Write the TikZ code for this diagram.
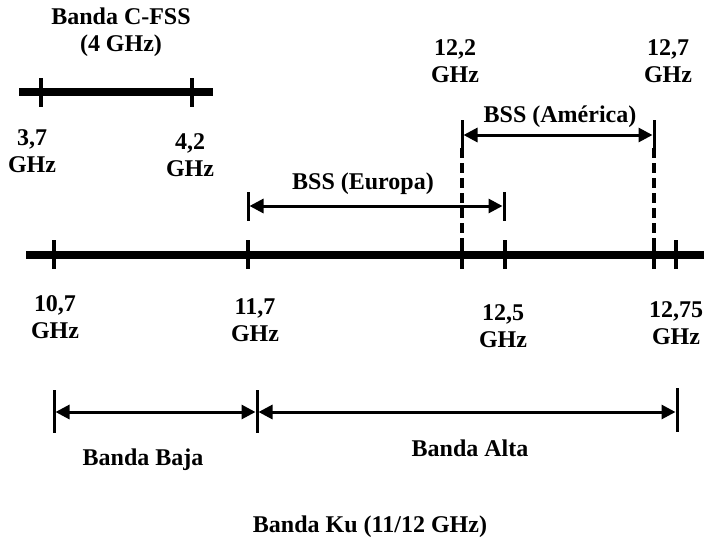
\documentclass[tikz,border=0pt]{standalone}
\usepackage{fontspec}
\setmainfont{Liberation Serif}
\usetikzlibrary{arrows.meta}
\begin{document}
\begin{tikzpicture}[x=1pt,y=-1pt,
  lbl/.style={font=\fontsize{24}{27}\selectfont\bfseries, inner sep=0pt, align=center},
  axisline/.style={line width=8pt},
  tickmark/.style={line width=3.5pt},
  barmark/.style={line width=3pt},
  dim/.style={line width=3pt, {Triangle[length=14pt,width=14pt]}-{Triangle[length=14pt,width=14pt]}, shorten <=1.5pt, shorten >=1.5pt},
  dashln/.style={line width=3.5pt, dash pattern=on 10pt off 5pt}]
\useasboundingbox (0,0) rectangle (704,541);

% C band
\coordinate (cL) at (19,92);
\coordinate (cR) at (213,92);
\draw[axisline] (cL) -- (cR);
\coordinate (c1t) at (41,78); \coordinate (c1b) at (41,107);
\coordinate (c2t) at (192,78); \coordinate (c2b) at (192,107);
\draw[tickmark] (c1t) -- (c1b);
\draw[tickmark] (c2t) -- (c2b);
\node[lbl] (ctitle) at (121,32) {Banda C-FSS\\(4 GHz)};
\node[lbl] (l37) at (32,151) {3,7\\GHz};
\node[lbl] (l42) at (190,155) {4,2\\GHz};

% main axis
\coordinate (aL) at (26,255);
\coordinate (aR) at (704,255);
\draw[axisline] (aL) -- (aR);
\foreach \n/\x in {t107/54, t117/248, t122/462, t125/505, t127/654, t1275/676}{
  \coordinate (\n t) at (\x,240);
  \coordinate (\n b) at (\x,269);
}
\draw[tickmark] (t107t) -- (t107b);
\draw[tickmark] (t117t) -- (t117b);
\draw[tickmark] (t122t) -- (t122b);
\draw[tickmark] (t125t) -- (t125b);
\draw[tickmark] (t127t) -- (t127b);
\draw[line width=4.5pt] (t1275t) -- (t1275b);

% BSS America
\coordinate (amLt) at (462,120); \coordinate (amLb) at (462,148);
\coordinate (amRt) at (654,120); \coordinate (amRb) at (654,148);
\coordinate (amL) at (462,135); \coordinate (amR) at (654,135);
\draw[barmark] (amLt) -- (amLb);
\draw[barmark] (amRt) -- (amRb);
\draw[dim] (amL) -- (amR);
\draw[dashln] (amLb) -- (t122t);
\draw[dashln] (amRb) -- (t127t);
\node[lbl] (bssam) at (560,117) {BSS (América)};
\node[lbl] (l122) at (455,61) {12,2\\GHz};
\node[lbl] (l127) at (668,61) {12,7\\GHz};

% BSS Europa
\coordinate (euLt) at (248,192); \coordinate (euLb) at (248,221);
\coordinate (euRt) at (504,192); \coordinate (euRb) at (504,221);
\coordinate (euL) at (248,206); \coordinate (euR) at (504,206);
\draw[barmark] (euLt) -- (euLb);
\draw[barmark] (euRt) -- (euRb);
\draw[dim] (euL) -- (euR);
\node[lbl] (bsseu) at (363,184) {BSS (Europa)};

% axis labels
\node[lbl] (l107) at (55,317) {10,7\\GHz};
\node[lbl] (l117) at (255,320) {11,7\\GHz};
\node[lbl] (l125) at (503,326) {12,5\\GHz};
\node[lbl] (l1275) at (676,323) {12,75\\GHz};

% bands
\coordinate (b1t) at (54,390); \coordinate (b1b) at (54,433);
\coordinate (b2t) at (257,390); \coordinate (b2b) at (257,433);
\coordinate (b3t) at (677,388); \coordinate (b3b) at (677,432);
\coordinate (b1) at (54,412); \coordinate (b2) at (257,412); \coordinate (b3) at (677,412);
\draw[barmark] (b1t) -- (b1b);
\draw[barmark] (b2t) -- (b2b);
\draw[barmark] (b3t) -- (b3b);
\draw[dim] (b1) -- (b2);
\draw[dim] (b2) -- (b3);
\node[lbl] (baja) at (143,460) {Banda Baja};
\node[lbl] (alta) at (470,448) {Banda Alta};
\node[lbl] (ku) at (370,527) {Banda Ku (11/12 GHz)};
\end{tikzpicture}
\end{document}
